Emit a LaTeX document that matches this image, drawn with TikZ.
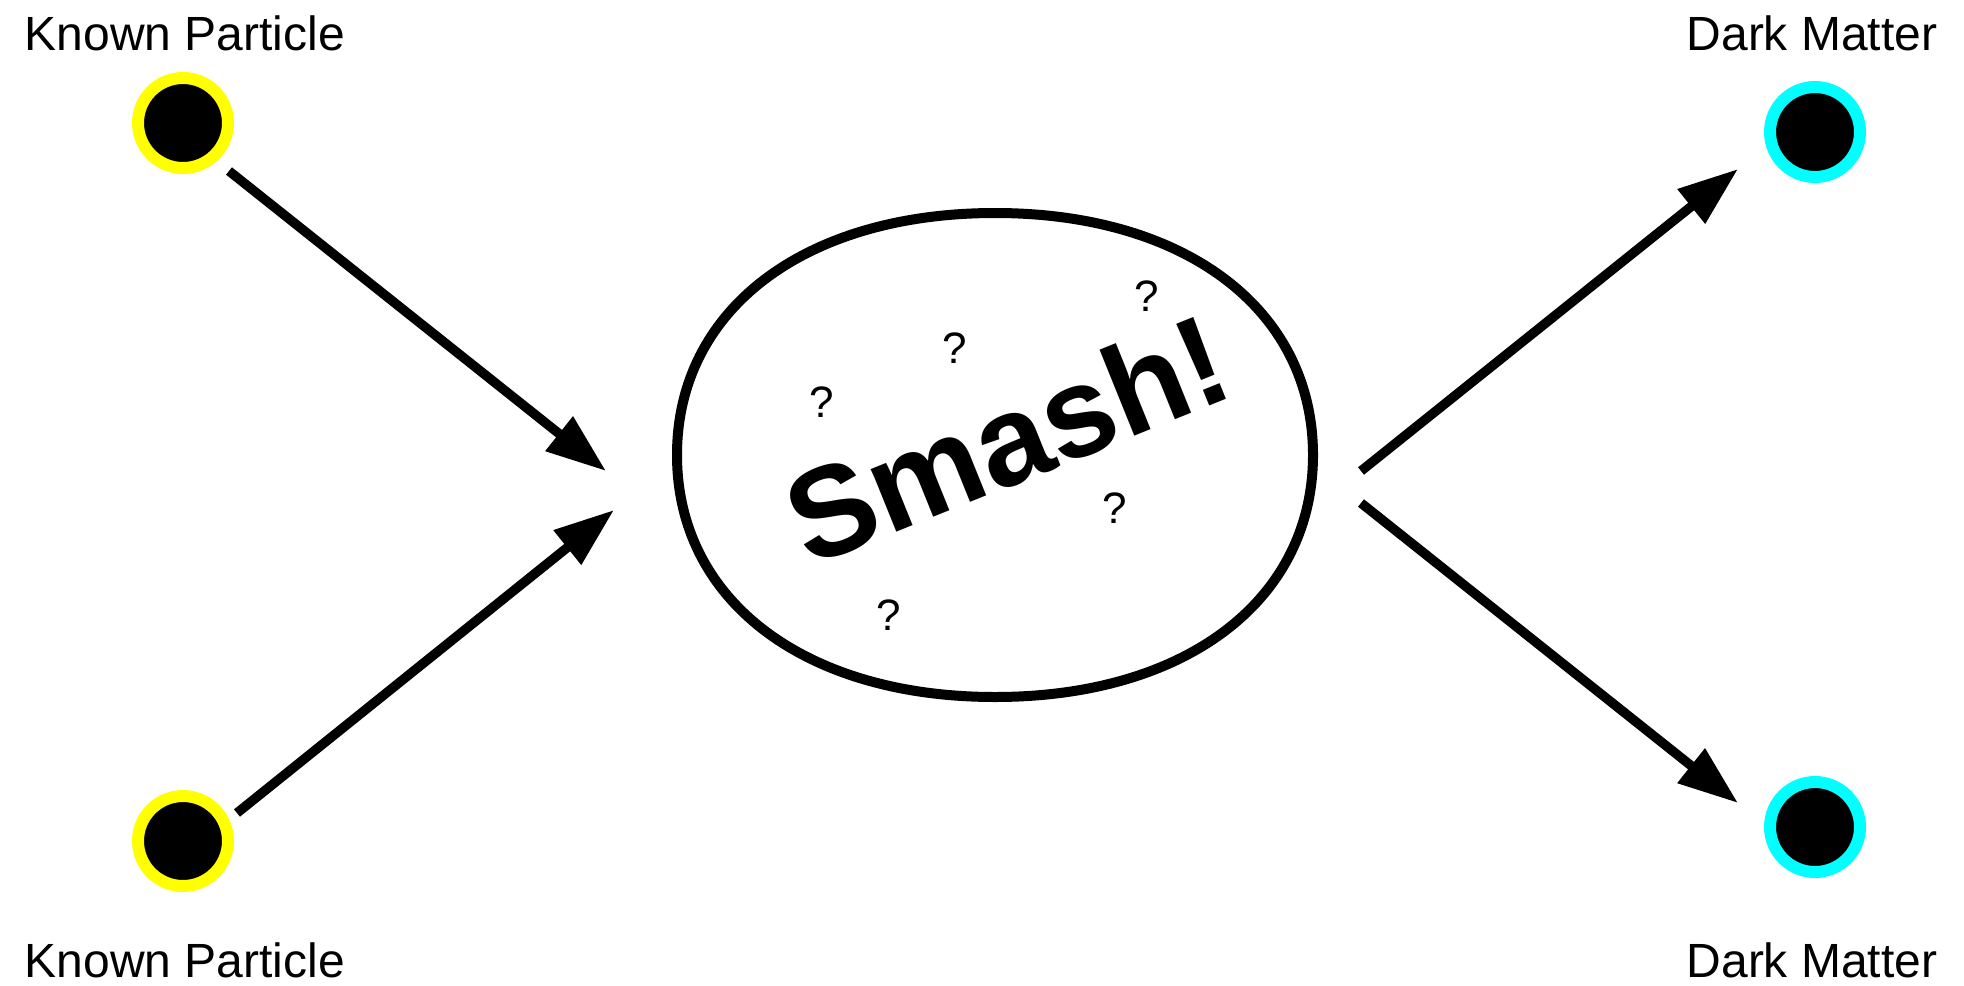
\documentclass[tikz,border=0pt]{standalone}
\usepackage{fontspec}
\setmainfont{Liberation Sans}
\usetikzlibrary{arrows.meta}
\definecolor{knownring}{RGB}{255,255,0}
\definecolor{darkring}{RGB}{0,255,255}
\begin{document}
\begin{tikzpicture}[x=1pt,y=-1pt,
  particle/.style={circle, minimum size=90pt, inner sep=0pt, fill=black, line width=12pt},
  known/.style={particle, draw=knownring},
  dark/.style={particle, draw=darkring},
  plabel/.style={font=\fontsize{48}{56}\selectfont, anchor=base, inner sep=0pt},
  arr/.style={line width=9.5pt, -{Triangle[length=60pt,width=42pt]}},
  query/.style={font=\fontsize{44}{50}\selectfont, inner sep=0pt},
  blob/.style={draw=black, line width=10pt},
]
\useasboundingbox (0,0) rectangle (1964,985);

% particles
\node[known] (kp1) at (183,123) {};
\node[known] (kp2) at (183,841) {};
\node[dark]  (dm1) at (1815,132) {};
\node[dark]  (dm2) at (1815,827) {};

% labels
\node[plabel] (kp1t) at (185,50) {Known Particle};
\node[plabel] (kp2t) at (185,977) {Known Particle};
\node[plabel] (dm1t) at (1812,50) {Dark Matter};
\node[plabel] (dm2t) at (1812,977) {Dark Matter};

% collision region: a slightly fuller ellipse drawn from four Bezier quarters
\draw[blob] (1313,455)
  .. controls (1313,309.8) and (1185.8,213) .. (995,213)
  .. controls (804.2,213) and (677,309.8) .. (677,455)
  .. controls (677,600.2) and (804.2,697) .. (995,697)
  .. controls (1185.8,697) and (1313,600.2) .. (1313,455) -- cycle;
\node[font=\bfseries\fontsize{128}{130}\selectfont, rotate=22, anchor=base, inner sep=0pt] (smash) at (1024,481) {Smash!};

\node[query] (q1) at (822,402) {?};
\node[query] (q2) at (955,348) {?};
\node[query] (q3) at (1147,296) {?};
\node[query] (q4) at (1115,508) {?};
\node[query] (q5) at (889,615) {?};

% arrow end points
\coordinate (a1s) at (229,171);
\coordinate (a1e) at (606,471);
\coordinate (a2s) at (237,813);
\coordinate (a2e) at (614,510);
\coordinate (a3s) at (1361,471);
\coordinate (a3e) at (1738,169);
\coordinate (a4s) at (1361,503);
\coordinate (a4e) at (1738,803);

\draw[arr] (a1s) -- (a1e);
\draw[arr] (a2s) -- (a2e);
\draw[arr] (a3s) -- (a3e);
\draw[arr] (a4s) -- (a4e);
\end{tikzpicture}
\end{document}
